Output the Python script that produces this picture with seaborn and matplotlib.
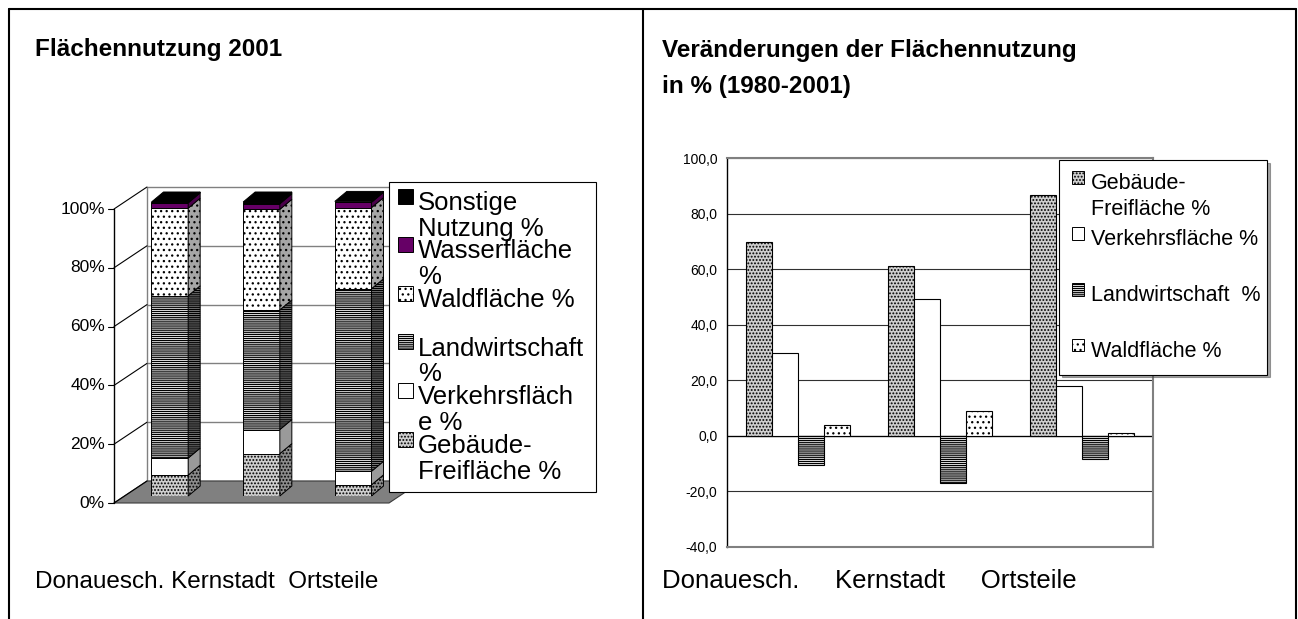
import matplotlib

matplotlib.use("Agg")

import matplotlib.patches as mpatches
import matplotlib.pyplot as plt
import numpy as np
import pandas as pd
import seaborn as sns
from matplotlib.legend_handler import HandlerPatch
from matplotlib.lines import Line2D
from matplotlib.transforms import IdentityTransform


W, H = 1298, 619

AREAS = ["Donauesch.", "Kernstadt", "Ortsteile"]

# Flächennutzung 2001, Anteil in %
USES_2001 = [
    "Gebäude-Freifläche %",
    "Verkehrsfläche %",
    "Landwirtschaft %",
    "Waldfläche %",
    "Wasserfläche %",
    "Sonstige Nutzung %",
]
GEBAEUDE_2001 = [7.1, 14.4, 3.8]
VERKEHR_2001 = [5.8, 8.2, 4.6]
LANDW_2001 = [55.2, 40.7, 62.1]
WALD_2001 = [29.8, 34.2, 27.6]
WASSER_2001 = [1.8, 1.9, 1.8]
SONSTIGE_2001 = [0.3, 0.6, 0.3]

LEFT_LEGEND_LABELS = [
    "Sonstige\nNutzung %",
    "Wasserfläche\n%",
    "Waldfläche %\n ",
    "Landwirtschaft\n%",
    "Verkehrsfläch\ne %",
    "Gebäude-\nFreifläche %",
]

# Veränderungen 1980-2001 in %
CHANGE_USES = ["Gebäude-Freifläche %", "Verkehrsfläche %", "Landwirtschaft %", "Waldfläche %"]
GEBAEUDE_CHANGE = [69.6, 61.0, 86.6]
VERKEHR_CHANGE = [29.7, 49.2, 18.0]
LANDW_CHANGE = [-10.4, -17.0, -8.4]
WALD_CHANGE = [3.8, 9.1, 1.1]

RIGHT_LEGEND_LABELS = [
    "Gebäude-\nFreifläche %",
    "Verkehrsfläche %\n ",
    "Landwirtschaft  %\n ",
    "Waldfläche %",
]
RIGHT_TICKS = [-40, -20, 0, 20, 40, 60, 80, 100]
LEFT_TICKS = [0, 20, 40, 60, 80, 100]

STYLE = {
    "Gebäude-Freifläche %": {"face": "#cfcfcf", "side": "#8c8c8c", "hatch": "....."},
    "Verkehrsfläche %": {"face": "white", "side": "#9a9a9a", "hatch": None},
    "Landwirtschaft %": {"face": "white", "side": "#8c8c8c", "hatch": "--------"},
    "Waldfläche %": {"face": "white", "side": "#a6a6a6", "hatch": "..."},
    "Wasserfläche %": {"face": "#660066", "side": "#4a004a", "hatch": None},
    "Sonstige Nutzung %": {"face": "black", "side": "black", "hatch": None},
}

FRONT_SHIFT = np.array([-10.0, -7.0])
BACK_SHIFT = np.array([23.0, 15.0])
BAR_DEPTH = np.array([12.0, 10.0])


def fig_rect(x0, y0, x1, y1):
    return [x0 / W, 1 - y1 / H, (x1 - x0) / W, (y1 - y0) / H]


def to_px(ax, points, shift=(0.0, 0.0)):
    return ax.transData.transform(np.asarray(points, dtype=float)) + np.asarray(shift)


def add_poly(ax, verts, **kwargs):
    ax.add_patch(
        mpatches.Polygon(verts, closed=True, transform=IdentityTransform(), clip_on=False, **kwargs)
    )


def add_px_line(ax, p0, p1, **kwargs):
    ax.add_line(
        Line2D([p0[0], p1[0]], [p0[1], p1[1]], transform=IdentityTransform(), clip_on=False, **kwargs)
    )


def square_handler(size, lift):
    # legend square placed next to the first line of a (possibly wrapped) label
    def make_patch(legend, orig_handle, xdescent, ydescent, width, height, fontsize):
        return mpatches.Rectangle(
            (-xdescent, -ydescent + lift * fontsize), size * fontsize, size * fontsize
        )

    return HandlerPatch(patch_func=make_patch)


def legend_handle(name):
    st = STYLE[name]
    return mpatches.Rectangle(
        (0, 0), 1, 1, facecolor=st["face"], hatch=st["hatch"], edgecolor="black", linewidth=0.7
    )


sns.set_theme(style="white")
plt.rcParams["font.family"] = ["Liberation Sans", "DejaVu Sans"]
plt.rcParams["hatch.linewidth"] = 0.9
plt.rcParams["text.color"] = "black"
plt.rcParams["ytick.color"] = "black"
plt.rcParams["ytick.labelcolor"] = "black"

fig = plt.figure(figsize=(W / 100, H / 100), dpi=100)

# ---------------- left: pseudo-3D stacked columns ----------------
ax_l = fig.add_axes(fig_rect(124, 202, 399, 496))
ax_l.set_xlim(-0.5, 2.5)
ax_l.set_ylim(0, 100)
ax_l.axis("off")

# back wall, floor and side wall
wall = to_px(ax_l, [(-0.5, 0), (2.5, 0), (2.5, 100), (-0.5, 100)], BACK_SHIFT)
add_poly(ax_l, wall, facecolor="white", edgecolor="#808080", linewidth=1.0, zorder=0.5)
for t in LEFT_TICKS[1:-1]:
    p = to_px(ax_l, [(-0.5, t), (2.5, t)], BACK_SHIFT)
    add_px_line(ax_l, p[0], p[1], color="#808080", linewidth=1.0, zorder=0.6)

floor_front = to_px(ax_l, [(-0.5, 0), (2.5, 0)], FRONT_SHIFT)
floor_back = to_px(ax_l, [(2.5, 0), (-0.5, 0)], BACK_SHIFT)
add_poly(
    ax_l,
    np.vstack([floor_front, floor_back]),
    facecolor="#808080",
    edgecolor="#3a3a3a",
    linewidth=0.8,
    zorder=0.7,
)

for t in LEFT_TICKS:
    front = to_px(ax_l, [(-0.5, t)], FRONT_SHIFT)[0]
    back = to_px(ax_l, [(-0.5, t)], BACK_SHIFT)[0]
    add_px_line(ax_l, front, back, color="black", linewidth=0.8, zorder=0.8)
    add_px_line(ax_l, front, front - np.array([6.0, 0.0]), color="black", linewidth=0.8, zorder=0.9)
    ax_l.text(
        front[0] - 9,
        front[1],
        f"{t}%",
        transform=IdentityTransform(),
        ha="right",
        va="center",
        fontsize=12.5,
        color="black",
    )
axis_line = to_px(ax_l, [(-0.5, 0), (-0.5, 100)], FRONT_SHIFT)
add_px_line(ax_l, axis_line[0], axis_line[1], color="black", linewidth=1.0, zorder=0.9)

x = np.arange(len(AREAS))
left_series = [GEBAEUDE_2001, VERKEHR_2001, LANDW_2001, WALD_2001, WASSER_2001, SONSTIGE_2001]
bottom = np.zeros(len(AREAS))
segments = []
for values, name in zip(left_series, USES_2001):
    st = STYLE[name]
    bars = ax_l.bar(
        x,
        values,
        bottom=bottom,
        width=0.4,
        facecolor=st["face"],
        hatch=st["hatch"],
        edgecolor="black",
        linewidth=0.7,
        zorder=3,
    )
    segments.append((bars, st))
    bottom = bottom + np.asarray(values)

# right-hand side faces and top faces of the columns
for bars, st in segments:
    for r in bars:
        x1 = r.get_x() + r.get_width()
        y0, y1 = r.get_y(), r.get_y() + r.get_height()
        p = to_px(ax_l, [(x1, y0), (x1, y1)])
        add_poly(
            ax_l,
            [p[0], p[1], p[1] + BAR_DEPTH, p[0] + BAR_DEPTH],
            facecolor=st["side"],
            hatch=st["hatch"],
            edgecolor="black",
            linewidth=0.7,
            zorder=3,
        )
for r in segments[-1][0]:
    top = r.get_y() + r.get_height()
    q = to_px(ax_l, [(r.get_x(), top), (r.get_x() + r.get_width(), top)])
    add_poly(
        ax_l,
        [q[0], q[1], q[1] + BAR_DEPTH, q[0] + BAR_DEPTH],
        facecolor="black",
        edgecolor="black",
        linewidth=0.7,
        zorder=3,
    )

leg_l = ax_l.legend(
    [legend_handle(n) for n in reversed(USES_2001)],
    LEFT_LEGEND_LABELS,
    loc="upper left",
    bbox_to_anchor=(389 / W, 1 - 182 / H, 207 / W, 0),
    bbox_transform=fig.transFigure,
    mode="expand",
    borderaxespad=0,
    fontsize=18.5,
    frameon=True,
    fancybox=False,
    framealpha=1,
    handlelength=0.58,
    handleheight=0.58,
    handletextpad=0.2,
    borderpad=0.34,
    labelspacing=-0.05,
    handler_map={mpatches.Rectangle: square_handler(0.58, 0.8)},
)
leg_l.get_frame().set_edgecolor("black")
leg_l.get_frame().set_linewidth(0.8)
for t in leg_l.get_texts():
    t.set_linespacing(1.1)
    t.set_color("black")

# ---------------- right: grouped columns with seaborn ----------------
change_df = pd.DataFrame(
    {
        "Gebiet": AREAS * len(CHANGE_USES),
        "Nutzung": np.repeat(CHANGE_USES, len(AREAS)),
        "Wert": GEBAEUDE_CHANGE + VERKEHR_CHANGE + LANDW_CHANGE + WALD_CHANGE,
    }
)
ax_r = fig.add_axes(fig_rect(727, 158, 1153, 547))
sns.barplot(
    data=change_df,
    x="Gebiet",
    y="Wert",
    hue="Nutzung",
    order=AREAS,
    hue_order=CHANGE_USES,
    palette={n: STYLE[n]["face"] for n in CHANGE_USES},
    saturation=1,
    width=0.73,
    edgecolor="black",
    linewidth=0.8,
    errorbar=None,
    legend=False,
    ax=ax_r,
)
for container, name in zip(ax_r.containers, CHANGE_USES):
    for bar in container:
        bar.set_hatch(STYLE[name]["hatch"])
        bar.set_zorder(3)

ax_r.set_xlim(-0.5, 2.5)
ax_r.set_ylim(-40, 100)
ax_r.set_yticks(RIGHT_TICKS)
ax_r.set_yticklabels([f"{v:.1f}".replace(".", ",") for v in RIGHT_TICKS])
ax_r.set_xticks([])
ax_r.set_xlabel("")
ax_r.set_ylabel("")
ax_r.tick_params(
    axis="y", direction="out", length=4, width=0.8, color="black", labelcolor="black", labelsize=10, pad=3
)
ax_r.yaxis.grid(True, color="#303030", linewidth=0.8)
ax_r.set_axisbelow(True)
ax_r.axhline(0, color="black", linewidth=0.9, zorder=2)
for side in ("top", "right", "bottom"):
    ax_r.spines[side].set_color("#808080")
    ax_r.spines[side].set_linewidth(1.5)
ax_r.spines["left"].set_color("black")
ax_r.spines["left"].set_linewidth(1.0)

right_handles = [legend_handle(n) for n in CHANGE_USES]
right_handler = {mpatches.Rectangle: square_handler(0.58, 0.92)}
right_handler[right_handles[-1]] = square_handler(0.58, 0.2)
leg_r = ax_r.legend(
    right_handles,
    RIGHT_LEGEND_LABELS,
    loc="upper left",
    bbox_to_anchor=(1059 / W, 1 - 160 / H, 208 / W, 0),
    bbox_transform=fig.transFigure,
    mode="expand",
    borderaxespad=0,
    fontsize=15.5,
    frameon=True,
    fancybox=False,
    framealpha=1,
    shadow=True,
    handlelength=0.58,
    handleheight=0.58,
    handletextpad=0.3,
    borderpad=0.6,
    labelspacing=0.4,
    handler_map=right_handler,
)
leg_r.get_frame().set_edgecolor("black")
leg_r.get_frame().set_linewidth(0.8)
for t in leg_r.get_texts():
    t.set_linespacing(1.33)
    t.set_color("black")

# ---------------- page frame and texts ----------------
for xv in (9, 643, 1296):
    fig.add_artist(
        Line2D([xv / W, xv / W], [0, 1 - 9 / H], transform=fig.transFigure, color="black", linewidth=1.5)
    )
fig.add_artist(
    Line2D([9 / W, 1296 / W], [1 - 9 / H, 1 - 9 / H], transform=fig.transFigure, color="black", linewidth=1.5)
)

fig.text(35 / W, 1 - 56 / H, "Flächennutzung 2001", fontsize=17.5, fontweight="bold", va="baseline", color="black")
# multi-line text with va="baseline" is anchored at the baseline of its last line
fig.text(
    662 / W,
    1 - 93 / H,
    "Veränderungen der Flächennutzung\nin % (1980-2001)",
    fontsize=17.5,
    fontweight="bold",
    va="baseline",
    linespacing=1.75,
    color="black",
)
left_names = f"{AREAS[0]} {AREAS[1]}  {AREAS[2]}"
right_names = f"{AREAS[0]}     {AREAS[1]}     {AREAS[2]}"
fig.text(35 / W, 1 - 588 / H, left_names, fontsize=17.5, va="baseline", color="black")
fig.text(662 / W, 1 - 588 / H, right_names, fontsize=18.5, va="baseline", color="black")

fig.savefig("out.png", dpi=100)
plt.close(fig)
